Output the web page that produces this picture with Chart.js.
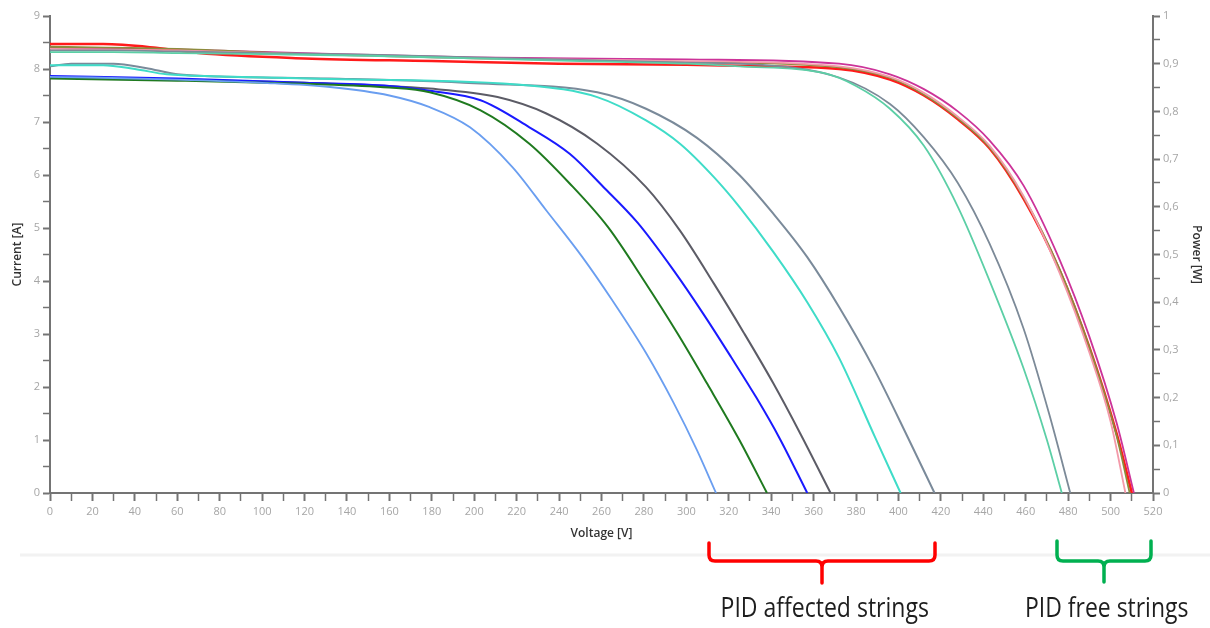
<!DOCTYPE html>
<html>
<head>
<meta charset="utf-8">
<script src="https://cdn.jsdelivr.net/npm/chart.js@4"></script>
<style>
  html, body { margin: 0; padding: 0; background: #fff; }
  #wrap { position: relative; width: 1210px; height: 628px; overflow: hidden; }
  #ivChart { position: absolute; left: 0; top: 0; }
  #marks { position: absolute; left: 0; top: 0; }
  .note { position: absolute; top: 592px; font-family: "Open Sans", sans-serif; font-size: 28px;
          line-height: 28px; color: #1e1e1e; white-space: nowrap; transform-origin: center top; }
</style>
</head>
<body>
<div id="wrap">
  <canvas id="ivChart" width="1210" height="560"></canvas>
  <svg id="marks" width="1210" height="628">
    <line x1="20" y1="555" x2="1210" y2="555" stroke="#f2f2f2" stroke-width="3"/>
    <path d="M709,543 L709,555 Q709,561 715,561 L816,561 Q822,561 822,567 L822,583 M822,567 Q822,561 828,561 L929,561 Q935,561 935,555 L935,543"
          fill="none" stroke="#ff0000" stroke-width="3.5" stroke-linecap="round"/>
    <path d="M1057,541 L1057,555 Q1057,561 1063,561 L1098,561 Q1104,561 1104,567 L1104,582 M1104,567 Q1104,561 1110,561 L1145,561 Q1151,561 1151,555 L1151,541"
          fill="none" stroke="#00b050" stroke-width="3.5" stroke-linecap="round"/>
  </svg>
  <div class="note" id="noteAffected" data-cx="824" data-w="208">PID affected strings</div>
  <div class="note" id="noteFree" data-cx="1106" data-w="163">PID free strings</div>
</div>
<script>
// I-V curves, voltage [V] and current [A]
// PID affected strings
var vLightBlue = [0, 20, 60, 100, 132, 160, 179, 198, 218, 234, 251, 265, 281, 294, 305, 314];
var iLightBlue = [7.85, 7.84, 7.8, 7.74, 7.66, 7.5, 7.28, 6.9, 6.15, 5.33, 4.45, 3.64, 2.64, 1.7, 0.81, 0];

var vGreen = [0, 60, 120, 160, 179, 203, 226, 245, 263, 280, 296, 310, 325, 338];
var iGreen = [7.82, 7.78, 7.72, 7.65, 7.56, 7.22, 6.59, 5.84, 5.02, 4.01, 3.0, 2.05, 1.0, 0];

var vBlue = [0, 60, 120, 160, 179, 203, 226, 245, 261, 277, 294, 308, 321, 333, 344, 357];
var iBlue = [7.87, 7.82, 7.74, 7.68, 7.59, 7.41, 6.9, 6.4, 5.77, 5.1, 4.2, 3.38, 2.57, 1.8, 1.03, 0];

var vDarkGray = [0, 60, 120, 179, 211, 234, 258, 281, 297, 313, 327, 341, 354, 368];
var iDarkGray = [7.84, 7.8, 7.74, 7.63, 7.47, 7.16, 6.59, 5.77, 4.95, 3.95, 3.03, 2.07, 1.1, 0];

var vTurquoise = [0, 25, 40, 55, 80, 132, 226, 258, 281, 297, 313, 325, 341, 357, 372, 389, 401];
var iTurquoise = [8.07, 8.07, 8.0, 7.9, 7.86, 7.81, 7.69, 7.47, 7.03, 6.59, 5.96, 5.4, 4.55, 3.6, 2.55, 1.05, 0];

var vSlate = [0, 10, 30, 45, 60, 80, 132, 200, 258, 281, 305, 325, 341, 357, 372, 388, 405, 417];
var iSlate = [8.05, 8.1, 8.1, 8.02, 7.9, 7.86, 7.82, 7.73, 7.56, 7.25, 6.7, 6.0, 5.27, 4.45, 3.51, 2.38, 1.0, 0];

// PID free strings
var vMint = [0, 30, 60, 100, 150, 200, 250, 300, 325, 365, 380, 396, 412, 428, 443, 459, 470, 477];
var iMint = [8.32, 8.32, 8.3, 8.28, 8.25, 8.2, 8.15, 8.1, 8.05, 7.92, 7.68, 7.25, 6.55, 5.4, 4.0, 2.35, 1.0, 0];

var vSlate2 = [0, 30, 60, 100, 150, 200, 250, 300, 325, 372, 396, 412, 428, 443, 459, 471, 481];
var iSlate2 = [8.35, 8.35, 8.33, 8.3, 8.27, 8.22, 8.17, 8.12, 8.1, 7.84, 7.34, 6.71, 5.85, 4.7, 3.1, 1.5, 0];

var vPink = [0, 60, 120, 200, 300, 372, 396, 412, 428, 443, 459, 476, 490, 500, 507];
var iPink = [8.38, 8.35, 8.28, 8.2, 8.15, 8.05, 7.85, 7.55, 7.1, 6.55, 5.6, 4.15, 2.65, 1.35, 0];

var vOlive = [0, 60, 120, 200, 300, 372, 396, 412, 428, 443, 459, 476, 490, 503, 509];
var iOlive = [8.42, 8.38, 8.28, 8.2, 8.13, 8.03, 7.83, 7.52, 7.07, 6.52, 5.58, 4.22, 2.75, 1.05, 0];

var vRed = [0, 25, 50, 70, 120, 180, 240, 300, 325, 372, 396, 412, 428, 443, 459, 476, 490, 503, 510];
var iRed = [8.47, 8.47, 8.4, 8.3, 8.2, 8.15, 8.1, 8.08, 8.06, 8.0, 7.8, 7.5, 7.05, 6.5, 5.55, 4.2, 2.75, 1.1, 0];

var vMagenta = [0, 60, 120, 200, 300, 372, 396, 412, 428, 443, 459, 476, 490, 503, 511];
var iMagenta = [8.4, 8.37, 8.3, 8.22, 8.18, 8.1, 7.9, 7.62, 7.2, 6.65, 5.8, 4.4, 2.95, 1.3, 0];

function pts(v, i) {
    return v.map(function (x, k) { return { x: x, y: i[k] }; });
}

function curve(v, i, color, width) {
    return {
        data: pts(v, i),
        borderColor: color,
        borderWidth: width || 1.8,
        showLine: true,
        pointRadius: 0,
        cubicInterpolationMode: 'monotone',
        yAxisID: 'y'
    };
}

var tickFont = { family: '"Open Sans", sans-serif', size: 11 };
var titleFont = { family: '"Open Sans", sans-serif', size: 12, weight: '600' };
var axisGray = '#747474';
var labelGray = '#a6a6a6';

var ctx = document.getElementById('ivChart').getContext('2d');
var ivChart = new Chart(ctx, {
    type: 'scatter',
    data: {
        datasets: [
            curve(vLightBlue, iLightBlue, '#6a9ef0'),
            curve(vGreen, iGreen, '#1f7a1f', 2),
            curve(vBlue, iBlue, '#1a1aff', 2),
            curve(vDarkGray, iDarkGray, '#5c5c66', 2),
            curve(vTurquoise, iTurquoise, '#3fdcc8', 2),
            curve(vSlate, iSlate, '#7a8a9a', 2),
            curve(vMint, iMint, '#5ccfa6'),
            curve(vSlate2, iSlate2, '#7c8a98'),
            curve(vPink, iPink, '#f49aaa'),
            curve(vOlive, iOlive, '#8c8c3c'),
            curve(vRed, iRed, '#ff1a1a', 2.5),
            curve(vMagenta, iMagenta, '#cc3399', 1.8)
        ]
    },
    options: {
        responsive: false,
        animation: false,
        layout: { padding: { top: 16, bottom: 17, left: 0, right: 0 } },
        plugins: { legend: { display: false }, tooltip: { enabled: false } },
        scales: {
            x: {
                type: 'linear', position: 'bottom', min: 0, max: 520,
                afterFit: function (s) { s.height = 50; },
                border: { color: axisGray, width: 2 },
                grid: { drawOnChartArea: false, tickLength: 8, tickColor: axisGray,
                        tickWidth: function (c) { return c.tick && c.tick.value % 20 === 0 ? 2 : 1.5; } },
                ticks: { stepSize: 10, autoSkip: false, maxRotation: 0, padding: 4, color: labelGray, font: tickFont,
                         callback: function (v) { return v % 20 === 0 ? v : ''; } },
                title: { display: true, text: 'Voltage [V]', color: '#333', font: titleFont, padding: { top: 4, bottom: 2 } }
            },
            y: {
                type: 'linear', position: 'left', min: 0, max: 9,
                afterFit: function (s) { s.width = 50; },
                border: { color: axisGray, width: 2 },
                grid: { drawOnChartArea: false, tickLength: 7, tickColor: axisGray,
                        tickWidth: function (c) { return c.tick && Number.isInteger(c.tick.value) ? 2 : 1.5; } },
                ticks: { stepSize: 0.5, autoSkip: false, padding: 3, color: labelGray, font: tickFont,
                         callback: function (v) { return Number.isInteger(v) ? v : ''; } },
                title: { display: true, text: 'Current [A]', color: '#333', font: titleFont, padding: { top: 10, bottom: 0 } }
            },
            y2: {
                type: 'linear', position: 'right', min: 0, max: 1,
                afterFit: function (s) { s.width = 57; },
                border: { color: axisGray, width: 2 },
                grid: { drawOnChartArea: false, tickLength: 7, tickColor: axisGray,
                        tickWidth: function (c) { return c.tick && Math.round(c.tick.value * 100) % 10 === 0 ? 2 : 1.5; } },
                ticks: { stepSize: 0.05, autoSkip: false, padding: 3, color: labelGray, font: tickFont,
                         callback: function (v) {
                             var h = Math.round(v * 100);
                             if (h % 10 !== 0) return '';
                             if (h === 0) return '0';
                             if (h === 100) return '1';
                             return (h / 100).toFixed(1).replace('.', ',');
                         } },
                title: { display: true, text: 'Power [W]', color: '#333', font: titleFont, padding: { top: 6, bottom: 0 } }
            }
        }
    }
});

// fit the annotation texts to their width in the picture
document.querySelectorAll('.note').forEach(function (el) {
    var w = el.offsetWidth;
    var target = parseFloat(el.dataset.w);
    var cx = parseFloat(el.dataset.cx);
    el.style.left = (cx - w / 2) + 'px';
    el.style.transform = 'scaleX(' + (target / w) + ')';
});
</script>
</body>
</html>
